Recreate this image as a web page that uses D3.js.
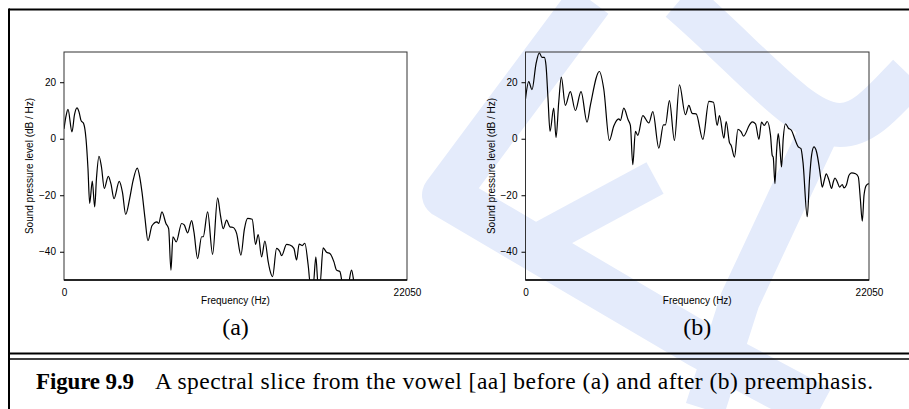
<!DOCTYPE html>
<html><head><meta charset="utf-8">
<script src="https://cdn.jsdelivr.net/npm/d3@7"></script>
<style>
html,body{margin:0;padding:0;background:#fff;}
svg{display:block;}
</style></head><body>
<svg id="c" width="909" height="409"></svg>
<script>
// ---- data ----
const freqA = [0,129,257,514,675,835,964,1092,1266,1414,1542,1651,1818,1972,2088,2249,2409,2589,2846,3020,3213,3553,3759,3964,4221,4433,4710,4883,5012,5204,5397,5654,5975,6085,6297,6554,6727,6875,7003,7215,7562,7729,7948,8205,8353,8590,8847,8950,9233,9554,9875,10055,10235,10453,10666,10878,11096,11372,11597,11803,12098,12317,12484,12702,12914,13126,13236,13409,13666,13878,13987,14308,14521,14778,14951,15118,15311,15484,15696,15850,16018,16191,16339,16448,16660,16878,17091,17348,17521,17733,17945,18247,18485,18697,20000,22050];
const dbA = [3.5,8,10.4,2.4,8.5,10.9,9.5,6.5,5.3,0,-10.6,-22.9,-15,-24.1,-14,-6.2,-10,-17.6,-13.3,-16,-21.2,-15.1,-19,-26.8,-21.2,-15,-10.4,-14,-18.8,-28,-36.1,-30.8,-29.4,-30,-25.9,-30,-31.8,-46.5,-34.7,-36.5,-30,-30.5,-33.3,-29,-33,-42.4,-34.7,-34.7,-25.9,-40.9,-20.9,-27,-31.8,-28.8,-31.2,-31.4,-33.5,-41.2,-32,-28.2,-28.5,-37.4,-33.9,-41.8,-36.2,-43.5,-46.5,-48.8,-38.8,-40,-41.4,-37.4,-37.6,-38.8,-42.9,-37.3,-37.8,-37,-44.7,-52,-52,-41.8,-52,-52,-38.6,-40.2,-40.6,-43.5,-46.5,-47,-52,-52,-46.5,-52,-55,-58];
const freqB = [0,206,418,675,887,1060,1208,1317,1446,1574,1812,1960,2133,2300,2557,2878,3200,3566,3951,4163,4742,5024,5384,5667,5988,6091,6309,6586,6733,6888,7055,7209,7530,7916,8173,8558,8854,8982,9239,9560,9882,10267,10486,10698,10955,11385,11771,12066,12304,12452,12734,12882,13094,13203,13415,13634,13846,13994,14379,14553,14765,14983,15150,15324,15516,15728,15838,15902,16011,16114,16223,16332,16435,16544,16692,16866,17078,17296,17508,17682,17810,18086,18234,18363,18517,18684,18838,18941,19050,19179,19307,19481,19648,19757,19866,20014,20162,20335,20444,20592,20766,20933,21190,21363,21492,21620,21730,21877,22050];
const dbB = [14.1,20.2,17.4,26.5,30.4,28.8,28.8,25.9,14.1,2.6,10.8,0.4,12.9,21.8,11.8,16.7,10,16.7,5.9,11.8,23.8,17.6,-0.6,4.5,7,6.5,10.8,6.7,4.7,-9.2,2.6,1.2,8.2,5.6,9.6,-3.3,4.9,4.9,13.5,-0.6,19.1,8.5,11.8,9,8.8,-0.2,13.2,12.9,4.7,8.2,0.2,6.1,-1.4,-2.4,-6.5,3.3,2.4,0.9,4.9,6,5.3,-0.2,5.9,4.7,6.1,1.2,-5.9,-6.5,-15.9,-4.7,1.8,-3.5,-10,0,5.3,3.8,2.9,-0.2,-2.9,-3.5,-8.2,-27.6,-14.1,-5.9,-2.9,-4.7,-9.4,-13.5,-17.1,-14.7,-12.4,-14.7,-17.6,-15.3,-13.9,-15.3,-17.1,-16.2,-17.4,-16.5,-12.9,-12.1,-12.4,-13.5,-21.2,-29.2,-20,-16.5,-15.9];
const yTicks = [-40,-20,0,20];
const xTicks = [0,22050];
const freqDomain = [0,22050];
const dbDomain = [-50,30.7];
const panelLabels = ["(a)","(b)"];
const yTitle = "Sound pressure level (dB / Hz)";
const xTitle = "Frequency (Hz)";
const capHead = "Figure 9.9";
const capText = "A spectral slice from the vowel [aa] before (a) and after (b) preemphasis.";

// ---- drawing ----
const svg = d3.select("#c");
const wm = "#e4ebfb";

// watermark (approximate)
const wmg = svg.append("g").attr("fill","none").attr("stroke",wm).attr("stroke-linecap","butt").attr("stroke-linejoin","round");
wmg.append("path").attr("d","M590,0 L445,195 L700,345 L820,409").attr("stroke-width",46);
wmg.append("path").attr("d","M680,0 C750,60 800,125 840,125 C865,125 885,100 909,75").attr("stroke-width",44);
wmg.append("path").attr("d","M828,112 L740,300 L705,409").attr("stroke-width",40);
wmg.append("path").attr("d","M655,178 L540,240").attr("stroke-width",36);

// outer frame
svg.append("line").attr("x1",9).attr("x2",909).attr("y1",9.5).attr("y2",9.5).attr("stroke","#000").attr("stroke-width",2);
svg.append("line").attr("x1",9).attr("x2",9).attr("y1",8.5).attr("y2",409).attr("stroke","#000").attr("stroke-width",2);
svg.append("line").attr("x1",9).attr("x2",909).attr("y1",353.5).attr("y2",353.5).attr("stroke","#000").attr("stroke-width",2.2);
svg.append("line").attr("x1",9).attr("x2",909).attr("y1",359).attr("y2",359).attr("stroke","#000").attr("stroke-width",1.4);

const y = d3.scaleLinear().domain(dbDomain).range([280,52]);
const panels = [
  {x0:64, x1:407, f:freqA, d:dbA, lab:panelLabels[0]},
  {x0:525.5, x1:869, f:freqB, d:dbB, lab:panelLabels[1]}
];
const sans = "'Liberation Sans', Arial, Helvetica, sans-serif";
const serif = "'Liberation Serif', 'Times New Roman', Times, serif";

panels.forEach((p,i)=>{
  const x = d3.scaleLinear().domain(freqDomain).range([p.x0,p.x1]);
  const g = svg.append("g");
  const cid = "clip"+i;
  svg.append("clipPath").attr("id",cid).append("rect")
    .attr("x",p.x0).attr("y",52).attr("width",p.x1-p.x0).attr("height",228);
  const pts = p.f.map((f,k)=>[f,p.d[k]]);
  const line = d3.line().x(d=>x(d[0])).y(d=>y(d[1])).curve(d3.curveMonotoneX);
  g.append("path").attr("clip-path",`url(#${cid})`).attr("d",line(pts))
    .attr("fill","none").attr("stroke","#000").attr("stroke-width",1.2).attr("stroke-linejoin","round");
  g.append("rect").attr("x",p.x0).attr("y",52).attr("width",p.x1-p.x0).attr("height",228)
    .attr("fill","none").attr("stroke","#333").attr("stroke-width",1);
  g.append("line").attr("x1",p.x0).attr("x2",p.x1).attr("y1",280).attr("y2",280).attr("stroke","#000").attr("stroke-width",1.6);
  const ya = g.append("g").attr("transform",`translate(${p.x0},0)`)
    .call(d3.axisLeft(y).tickValues(yTicks).tickSize(4).tickPadding(4));
  ya.select(".domain").remove();
  ya.selectAll("text").attr("font-family",sans).attr("font-size",10).attr("fill","#000");
  ya.selectAll("line").attr("stroke","#000");
  const xa = g.append("g").attr("transform",`translate(0,280)`)
    .call(d3.axisBottom(x).tickValues(xTicks).tickSize(0).tickPadding(9).tickFormat(d3.format("d")));
  xa.select(".domain").remove();
  xa.selectAll("text").attr("font-family",sans).attr("font-size",10).attr("fill","#000");
  const cx = (p.x0+p.x1)/2;
  g.append("text").attr("x",cx).attr("y",303.5).attr("text-anchor","middle")
    .attr("font-family",sans).attr("font-size",10).text(xTitle);
  g.append("text").attr("transform",`translate(${p.x0-31},166) rotate(-90)`).attr("text-anchor","middle")
    .attr("font-family",sans).attr("font-size",10).text(yTitle);
  g.append("text").attr("x",cx).attr("y",335).attr("text-anchor","middle")
    .attr("font-family",serif).attr("font-size",24).text(p.lab);
});

svg.append("text").attr("x",36).attr("y",389).attr("font-family",serif).attr("font-size",23)
  .attr("font-weight","bold").attr("textLength",98).attr("lengthAdjust","spacing").text(capHead);
svg.append("text").attr("x",155).attr("y",389).attr("font-family",serif).attr("font-size",23.5)
  .attr("textLength",718).attr("lengthAdjust","spacing").text(capText);
</script></body></html>
